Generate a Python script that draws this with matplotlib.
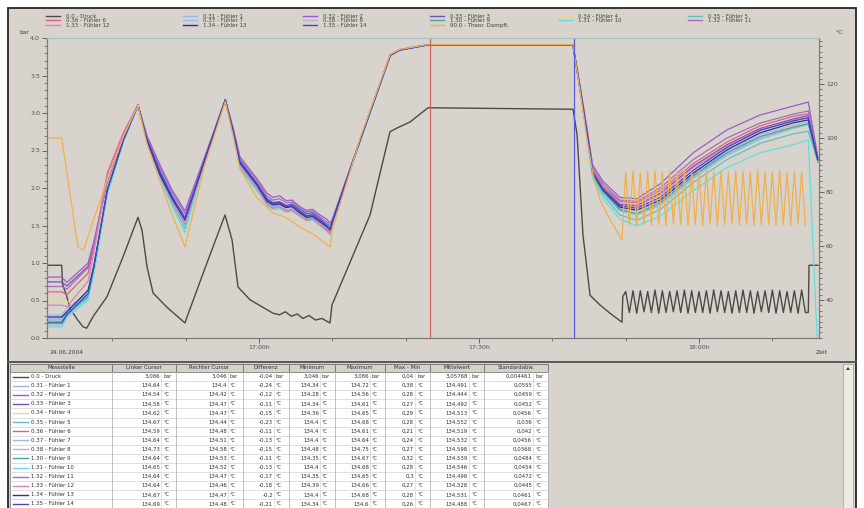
import matplotlib
matplotlib.use("Agg")
import matplotlib.pyplot as plt
from matplotlib.patches import Rectangle, Polygon
from matplotlib.lines import Line2D
from matplotlib.ticker import MultipleLocator, FixedLocator

# ---------------- data ----------------
# time in minutes after 16:00
t_grid = [31.1, 33.1, 33.8, 36.7, 37.5, 39.3, 41.5, 43.5, 44.7, 46.5, 48.1, 49.9, 52.6, 55.4, 56.5, 57.4,
          59.7, 61.1, 61.9, 62.8, 63.7, 64.5, 65.6, 66.5, 67.3, 68.3, 69.2, 69.7, 70.0, 73.8, 77.9, 79.2,
          83.0, 102.8, 103.8, 104.7, 105.5, 106.9, 109.2, 111.5, 114.7, 119.2, 123.8, 128.3, 132.8, 134.9, 136.2]

f1 = [33.3, 33.3, 36.0, 42.0, 52.0, 80.0, 99.0, 112.0, 100.5, 88.0, 79.5, 71.0, 92.0, 114.0, 103.0, 92.0, 83.5,
      77.8, 76.5, 76.0, 75.0, 75.4, 73.0, 71.4, 72.0, 70.0, 68.5, 67.0,
      69.5, 99.0, 130.5, 132.5, 134.4, 134.4, 118.5, 103.0, 88.5, 81.5, 73.5, 71.5, 75.0, 85.0, 93.5, 99.5, 103.5, 105.0, 92.0]
f2 = [48.5, 48.5, 46.5, 53.7, 62.0, 84.0, 100.5, 112.2, 101.0, 90.0, 81.0, 73.0, 93.0, 114.1, 103.5, 93.0, 85.0,
      79.5, 78.0, 78.6, 76.8, 77.0, 74.5, 73.2, 73.6, 71.5, 70.0, 68.5,
      70.0, 99.5, 130.8, 132.8, 134.5, 134.5, 119.0, 104.0, 90.0, 84.0, 78.0, 77.5, 83.0, 94.5, 103.0, 108.5, 111.8, 113.3, 93.0]
f3 = [46.7, 46.7, 45.2, 52.5, 61.0, 83.0, 100.0, 112.2, 100.0, 87.5, 78.5, 70.5, 92.5, 114.1, 102.5, 91.5, 83.5,
      77.5, 76.0, 76.4, 75.0, 75.6, 73.5, 72.0, 72.4, 70.2, 68.0, 66.5,
      69.0, 99.3, 130.7, 132.6, 134.5, 134.5, 118.0, 102.0, 87.5, 81.5, 75.5, 75.0, 79.5, 89.5, 97.5, 103.5, 107.0, 108.3, 92.0]
f4 = [40.0, 40.0, 39.0, 46.0, 57.0, 82.5, 100.0, 112.0, 98.0, 85.0, 76.0, 67.0, 91.0, 114.0, 101.0, 89.5, 81.0,
      75.0, 73.5, 74.2, 72.0, 72.8, 70.5, 68.8, 69.5, 67.0, 64.8, 63.5,
      68.0, 99.5, 130.8, 132.7, 134.5, 134.5, 117.5, 101.5, 86.5, 80.0, 73.5, 72.5, 76.5, 86.0, 94.5, 101.0, 104.5, 105.8, 92.0]
f5 = [32.6, 32.6, 35.0, 41.0, 51.0, 80.0, 99.0, 112.0, 99.0, 85.5, 76.0, 66.5, 91.0, 114.0, 101.0, 89.0, 81.0,
      75.5, 74.0, 74.3, 73.0, 73.4, 71.5, 69.8, 70.0, 68.0, 66.0, 64.5,
      68.5, 99.0, 130.6, 132.5, 134.6, 134.6, 117.5, 101.0, 86.0, 79.0, 71.5, 69.5, 73.5, 83.5, 92.0, 98.0, 101.5, 102.5, 91.0]
f6 = [43.0, 43.0, 42.0, 50.0, 60.0, 87.0, 102.0, 112.3, 99.5, 86.5, 77.5, 68.5, 92.0, 114.1, 102.0, 90.5, 82.0,
      76.0, 74.5, 75.2, 73.3, 73.6, 71.5, 70.0, 70.5, 68.2, 66.4, 65.0,
      68.5, 99.5, 130.8, 132.7, 134.5, 134.5, 118.2, 102.5, 88.0, 82.0, 76.5, 76.0, 80.5, 90.5, 98.5, 104.5, 108.0, 109.0, 92.5]
f7 = [34.4, 34.4, 37.0, 42.5, 52.5, 80.5, 99.0, 112.0, 100.0, 87.0, 78.0, 69.0, 91.5, 114.0, 102.0, 91.0, 83.0,
      77.0, 75.5, 75.8, 74.4, 74.8, 72.5, 71.0, 71.4, 69.3, 67.5, 66.0,
      69.0, 99.2, 130.6, 132.5, 134.5, 134.5, 117.6, 101.5, 86.5, 80.0, 73.0, 71.5, 75.5, 85.5, 94.0, 100.0, 103.8, 105.0, 91.5]
f8 = [30.7, 30.7, 34.0, 40.5, 50.5, 79.5, 98.8, 112.0, 99.0, 86.0, 77.0, 68.0, 91.0, 114.0, 101.5, 90.0, 82.0,
      76.0, 74.5, 74.9, 73.4, 73.9, 71.8, 70.2, 70.6, 68.5, 66.8, 65.5,
      68.5, 99.0, 130.5, 132.6, 134.6, 134.6, 117.8, 102.0, 87.0, 80.5, 74.0, 73.0, 76.5, 86.5, 95.0, 101.2, 104.8, 106.0, 91.8]
f9 = [31.9, 31.9, 34.8, 41.5, 51.5, 80.2, 99.0, 112.0, 100.0, 87.0, 78.5, 70.0, 91.5, 114.0, 102.0, 91.0, 83.0,
      77.0, 75.5, 76.0, 74.3, 74.7, 72.5, 71.0, 71.5, 69.4, 67.8, 66.5,
      69.0, 99.2, 130.6, 132.6, 134.5, 134.5, 117.7, 101.7, 86.8, 80.2, 73.5, 72.0, 76.0, 86.0, 94.5, 100.5, 104.0, 105.3, 91.5]
f10 = [30.0, 30.0, 33.5, 40.0, 50.0, 79.0, 98.5, 112.0, 98.5, 84.5, 75.0, 65.0, 90.5, 114.0, 100.5, 88.5, 80.5,
       75.0, 73.5, 73.8, 72.5, 72.9, 71.0, 69.3, 69.6, 67.5, 65.5, 64.0,
       68.0, 99.0, 130.5, 132.5, 134.5, 134.5, 117.0, 100.5, 85.0, 77.5, 70.0, 67.5, 71.0, 80.5, 89.0, 94.5, 97.5, 99.3, 20.0]
f11 = [45.0, 45.0, 44.0, 52.0, 61.0, 83.5, 100.3, 112.2, 100.5, 89.0, 80.0, 72.0, 92.8, 114.1, 103.0, 92.5, 84.5,
       78.5, 77.0, 77.5, 76.0, 76.3, 74.0, 72.6, 73.0, 70.8, 69.0, 67.5,
       69.5, 99.4, 130.7, 132.7, 134.5, 134.5, 118.5, 103.0, 89.0, 83.0, 77.0, 76.5, 81.5, 92.0, 100.0, 105.5, 108.8, 110.0, 92.5]
f12 = [38.1, 38.1, 37.5, 47.0, 58.0, 86.0, 101.5, 112.2, 99.0, 86.0, 77.0, 68.0, 91.5, 114.1, 101.5, 90.0, 81.5,
       75.5, 74.0, 74.6, 72.8, 73.3, 71.0, 69.5, 70.0, 67.8, 65.8, 64.5,
       68.5, 99.5, 130.8, 132.7, 134.5, 134.5, 118.0, 102.0, 87.5, 81.0, 75.0, 74.5, 79.0, 89.0, 97.0, 103.0, 106.5, 107.5, 92.0]
f13 = [33.7, 33.7, 35.6, 43.7, 53.0, 80.7, 99.3, 112.2, 99.3, 86.3, 77.8, 69.6, 91.9, 114.1, 101.9, 90.7, 82.6,
       76.5, 75.2, 75.6, 74.2, 74.6, 72.2, 70.6, 70.9, 69.0, 67.2, 65.9,
       68.9, 99.3, 130.7, 132.6, 134.5, 134.5, 117.8, 101.9, 87.0, 80.7, 74.4, 73.3, 77.0, 87.0, 95.6, 101.9, 105.6, 106.7, 91.9]
f14 = [31.5, 31.5, 34.5, 42.5, 52.5, 80.5, 99.2, 112.2, 99.8, 87.5, 78.5, 70.0, 92.0, 114.1, 102.3, 91.2, 83.0,
       77.2, 75.8, 76.2, 74.6, 75.0, 72.8, 71.2, 71.6, 69.5, 67.6, 66.2,
       69.0, 99.3, 130.7, 132.6, 134.5, 134.5, 118.0, 102.2, 87.3, 81.0, 75.0, 74.0, 78.0, 88.0, 96.5, 102.8, 106.3, 107.5, 92.2]

# oscillation phase (pressure control) at the end
osc_t = [110.0, 110.5, 111.0, 111.5, 112.0, 112.5, 113.0, 113.5, 114.0, 114.5,
         115.0, 115.5, 116.0, 116.5, 117.0, 117.5, 118.0, 118.5, 119.0, 119.5,
         120.0, 120.5, 121.0, 121.5, 122.0, 122.5, 123.0, 123.5, 124.0, 124.5,
         125.0, 125.5, 126.0, 126.5, 127.0, 127.5, 128.0, 128.5, 129.0, 129.5,
         130.0, 130.5, 131.0, 131.5, 132.0, 132.5, 133.0, 133.5, 134.0, 134.5]
osc_p = [0.62, 0.34, 0.63, 0.33, 0.63, 0.35, 0.62, 0.34, 0.64, 0.33, 0.63, 0.34, 0.62, 0.35, 0.63, 0.34, 0.64,
         0.33, 0.63, 0.34, 0.62, 0.34, 0.63, 0.33, 0.64, 0.35, 0.63, 0.34, 0.62, 0.33, 0.63, 0.34, 0.64, 0.34,
         0.63, 0.33, 0.62, 0.35, 0.63, 0.34, 0.64, 0.33, 0.63, 0.34, 0.62, 0.34, 0.63, 0.33, 0.64, 0.34]
osc_theor = [87.5, 67.8, 88.0, 67.5, 87.2, 68.0, 87.8, 67.6, 88.1, 67.9, 87.4, 67.5, 87.9, 68.1, 87.6, 67.7, 88.0,
             67.4, 87.3, 67.9, 87.8, 67.6, 88.2, 68.0, 87.5, 67.5, 87.9, 67.8, 87.4, 68.1, 88.0, 67.6, 87.6, 67.9,
             87.3, 67.5, 88.1, 67.8, 87.7, 68.0, 87.5, 67.6, 88.0, 67.9, 87.4, 67.5, 87.8, 68.0, 87.6, 67.7]

druck_t = [31.1, 33.1, 33.2, 33.8, 34.2, 35.2, 36.0, 36.5, 37.0, 37.4, 39.27, 41.45, 43.5, 44.04, 44.73, 45.55,
           47.45, 49.91, 50.18, 52.9, 55.36, 56.32, 57.14, 58.77, 61.91, 62.8, 63.6, 64.4, 65.2, 66.0, 66.8,
           67.7, 68.6, 69.68, 69.95, 75.14, 77.86, 78.82, 80.59, 83.05, 102.82, 103.37, 104.18, 105.14, 106.5,
           107.86, 109.5, 109.6] + osc_t + [134.9, 135.0, 136.2]
druck_v = [0.97, 0.97, 0.72, 0.55, 0.40, 0.25, 0.15, 0.13, 0.22, 0.29, 0.55, 1.08, 1.61, 1.44, 0.95, 0.60,
           0.41, 0.20, 0.28, 1.00, 1.64, 1.31, 0.68, 0.51, 0.33, 0.31, 0.35, 0.29, 0.32, 0.26, 0.30,
           0.24, 0.26, 0.20, 0.44, 1.64, 2.75, 2.80, 2.88, 3.07, 3.05, 2.71, 1.37, 0.57, 0.44,
           0.33, 0.21, 0.55] + osc_p + [0.34, 0.97, 0.97]

theor_t = [31.1, 33.1, 35.3, 36.1, 37.3, 39.3, 41.5, 43.4, 43.5, 44.7, 46.5, 48.1, 49.9, 52.6, 55.4, 56.5,
           57.4, 59.7, 61.9, 63.5, 65.6, 67.6, 69.7, 70.0, 73.8, 77.9, 79.2, 83.0, 102.8, 103.8, 104.7, 105.5,
           106.5, 107.9, 109.5] + osc_t
theor_v = [100.0, 100.0, 59.6, 58.5, 68.5, 84.4, 100.4, 111.5, 112.2, 98.0, 84.0, 72.0, 59.6, 90.0, 113.5, 100.5,
           88.5, 78.0, 72.2, 70.8, 67.0, 64.0, 59.6, 66.0, 100.0, 131.0, 132.8, 134.6, 134.6, 117.0, 100.0, 87.0,
           77.0, 69.6, 62.2] + osc_theor

sensor_names = ["0.31 - Fühler 1", "0.32 - Fühler 2", "0.33 - Fühler 3", "0.34 - Fühler 4", "0.35 - Fühler 5",
                "0.36 - Fühler 6", "0.37 - Fühler 7", "0.38 - Fühler 8", "1.30 - Fühler 9", "1.31 - Fühler 10",
                "1.32 - Fühler 11", "1.33 - Fühler 12", "1.34 - Fühler 13", "1.35 - Fühler 14"]
sensor_colors = ["#9ab8e2", "#9a5cc8", "#7450b8", "#e6d68e", "#5cc4bc", "#e06272", "#8cc0ea",
                 "#aeb6d2", "#3fa8a0", "#5ee0e2", "#a46cc4", "#e07cc0", "#2c2c9c", "#4646c4"]
druck_name, druck_color = "0.0 - Druck", "#4a4a48"
theor_name, theor_color = "90.0 - Theor. Dampft.", "#f0b050"

cursor_left_t, cursor_right_t = 83.3, 102.95

x_major = [60, 90, 120]
x_major_labels = ["17:00h", "17:30h", "18:00h"]
x_minor = [40, 50, 70, 80, 100, 110, 130]

# table
tab_headers = ["Messstelle", "Linker Cursor", "Rechter Cursor", "Differenz", "Minimum", "Maximum",
               "Max - Min", "Mittelwert", "Standardabw."]
tab_names = [druck_name] + sensor_names
tab_units = ["bar"] + ["°C"] * 14
tab_links = ["3,086", "134,64", "134,54", "134,58", "134,62", "134,67", "134,59", "134,64", "134,73", "134,64", "134,65", "134,64", "134,64", "134,67", "134,69"]
tab_rechts = ["3,046", "134,4", "134,42", "134,47", "134,47", "134,44", "134,48", "134,51", "134,58", "134,53", "134,52", "134,47", "134,46", "134,47", "134,48"]
tab_diff = ["-0,04", "-0,24", "-0,12", "-0,11", "-0,15", "-0,23", "-0,11", "-0,13", "-0,15", "-0,11", "-0,13", "-0,17", "-0,18", "-0,2", "-0,21"]
tab_min = ["3,046", "134,34", "134,28", "134,34", "134,36", "134,4", "134,4", "134,4", "134,48", "134,35", "134,4", "134,35", "134,39", "134,4", "134,34"]
tab_max = ["3,086", "134,72", "134,56", "134,61", "134,65", "134,68", "134,61", "134,64", "134,75", "134,67", "134,68", "134,65", "134,66", "134,68", "134,6"]
tab_maxmin = ["0,04", "0,38", "0,28", "0,27", "0,29", "0,28", "0,21", "0,24", "0,27", "0,32", "0,28", "0,3", "0,27", "0,28", "0,26"]
tab_mittel = ["3,05768", "134,491", "134,444", "134,492", "134,513", "134,552", "134,519", "134,532", "134,598", "134,539", "134,546", "134,498", "134,528", "134,531", "134,488"]
tab_std = ["0,004461", "0,0555", "0,0459", "0,0452", "0,0456", "0,036", "0,042", "0,0456", "0,0368", "0,0484", "0,0454", "0,0472", "0,0445", "0,0461", "0,0467"]

# ---------------- figure ----------------
W, H = 864, 508
BG = "#d8d4cd"
fig = plt.figure(figsize=(W / 100, H / 100), dpi=100, facecolor="white")

bg = fig.add_axes([0, 0, 1, 1])
bg.set_xlim(0, W)
bg.set_ylim(H, 0)
bg.axis("off")
bg.set_zorder(-10)
bg.add_patch(Rectangle((8, 8), 848, 520, facecolor=BG, edgecolor="#262626", lw=1.3))
bg.add_line(Line2D([8, 856], [362, 362], color="#5a5a5a", lw=1.4))

# main axes
ax = fig.add_axes([47 / W, 1 - 338 / H, 772 / W, 300 / H])
ax.set_facecolor(BG)
ax.set_xlim(31.09, 136.36)
ax.set_ylim(0, 4.0)
ax2 = ax.twinx()
ax2.set_ylim(25.93, 137.04)

ax.plot(druck_t, druck_v, color=druck_color, lw=1.0, zorder=2)
for vals, col in zip([f1, f2, f3, f4, f5, f6, f7, f8, f9, f10, f11, f12, f13, f14], sensor_colors):
    ax2.plot(t_grid, vals, color=col, lw=0.9)
ax2.plot(theor_t, theor_v, color=theor_color, lw=0.9)
ax2.axvline(cursor_left_t, color="#d06060", lw=0.9)
ax2.axvline(cursor_right_t, color="#5a5ad8", lw=0.9)

tick_col = "#505050"
ax.set_yticks([0, 0.5, 1.0, 1.5, 2.0, 2.5, 3.0, 3.5, 4.0])
ax.set_yticklabels(["0.0", "0.5", "1.0", "1.5", "2.0", "2.5", "3.0", "3.5", "4.0"])
ax.yaxis.set_minor_locator(MultipleLocator(0.1))
ax2.set_yticks([40, 60, 80, 100, 120])
ax2.yaxis.set_minor_locator(MultipleLocator(2))
ax.set_xticks(x_major)
ax.set_xticklabels(x_major_labels)
ax.xaxis.set_minor_locator(FixedLocator(x_minor))
for a in (ax, ax2):
    a.tick_params(which="major", length=3.5, width=0.6, colors=tick_col, labelsize=4.5, pad=1.5,
                  direction="out")
    a.tick_params(which="minor", length=2, width=0.5, colors=tick_col, direction="out")
    for s in a.spines.values():
        s.set_color("#7a7a7a")
        s.set_linewidth(0.8)
    a.spines["top"].set_color("#a6c2ba")

# unit labels
bg.text(24, 33, "bar", fontsize=4.2, color="#404040", ha="center", va="center")
bg.text(839, 33, "°C", fontsize=4.2, color="#404040", ha="center", va="center")
bg.text(66, 353, "24.06.2004", fontsize=4.3, color="#404040", ha="center", va="center")
bg.text(822, 353, "Zeit", fontsize=4.3, color="#404040", ha="center", va="center")

# legends, one per column
entries = [(druck_name, druck_color)] + list(zip(sensor_names, sensor_colors)) + [(theor_name, theor_color)]
lookup = dict(entries)
columns = [
    (46, [druck_name, sensor_names[5], sensor_names[11]]),
    (183, [sensor_names[0], sensor_names[6], sensor_names[12]]),
    (303, [sensor_names[1], sensor_names[7], sensor_names[13]]),
    (430, [sensor_names[2], sensor_names[8], theor_name]),
    (558, [sensor_names[3], sensor_names[9]]),
    (688, [sensor_names[4], sensor_names[10]]),
]
for xl, labs in columns:
    hs = [Line2D([], [], color=lookup[l], lw=1.0) for l in labs]
    fig.legend(hs, labs, loc="upper left", bbox_to_anchor=(xl / W, 1 - 13.5 / H), frameon=False,
               fontsize=4.0, handlelength=2.6, handletextpad=1.0, borderpad=0, borderaxespad=0,
               labelspacing=-0.05, labelcolor="#404040")

# ---------------- table ----------------
col_edges = [10, 112, 176, 243, 289, 335, 385, 430, 484, 548]
head_top, head_bot = 363.5, 372.0
row_h = 9.1
fs = 3.9
for j, htxt in enumerate(tab_headers):
    x0, x1 = col_edges[j], col_edges[j + 1]
    bg.add_patch(Rectangle((x0, head_top), x1 - x0, head_bot - head_top, facecolor="#d6d2ca",
                           edgecolor="#6e6e6e", lw=0.6))
    bg.text((x0 + x1) / 2, (head_top + head_bot) / 2, htxt, fontsize=fs, ha="center", va="center",
            color="#303030")
bg.add_patch(Rectangle((col_edges[0], head_bot), col_edges[-1] - col_edges[0], 200, facecolor="white",
                       edgecolor="#8a8a8a", lw=0.6))
value_cols = [tab_links, tab_rechts, tab_diff, tab_min, tab_max, tab_maxmin, tab_mittel, tab_std]
swatch_colors = [druck_color] + sensor_colors
for i in range(len(tab_names)):
    y0 = head_bot + i * row_h
    yc = y0 + row_h / 2
    bg.add_line(Line2D([col_edges[0], col_edges[-1]], [y0 + row_h, y0 + row_h], color="#d0d0d0", lw=0.5))
    bg.add_line(Line2D([13, 28], [yc, yc], color=swatch_colors[i], lw=1.0))
    bg.text(31, yc, tab_names[i], fontsize=fs, ha="left", va="center", color="#303030")
    for j, colvals in enumerate(value_cols):
        x1 = col_edges[j + 2]
        bg.text(x1 - 16, yc, colvals[i], fontsize=fs, ha="right", va="center", color="#303030")
        bg.text(x1 - 13, yc, tab_units[i], fontsize=fs - 0.4, ha="left", va="center", color="#303030")
for j in range(1, len(col_edges)):
    bg.add_line(Line2D([col_edges[j], col_edges[j]], [head_bot, H], color="#b8b8b8", lw=0.6))
    if j >= 2:
        bg.add_line(Line2D([col_edges[j] - 15, col_edges[j] - 15], [head_bot, H], color="#d8d8d8", lw=0.5))

# scrollbar
bg.add_patch(Rectangle((843, 364), 10, 150, facecolor="#ecebe6", edgecolor="#a8a8a8", lw=0.6))
bg.add_patch(Polygon([[846, 370], [850, 370], [848, 367]], closed=True, facecolor="#404040", edgecolor="none"))

fig.savefig("out.png", dpi=100, facecolor=fig.get_facecolor())
